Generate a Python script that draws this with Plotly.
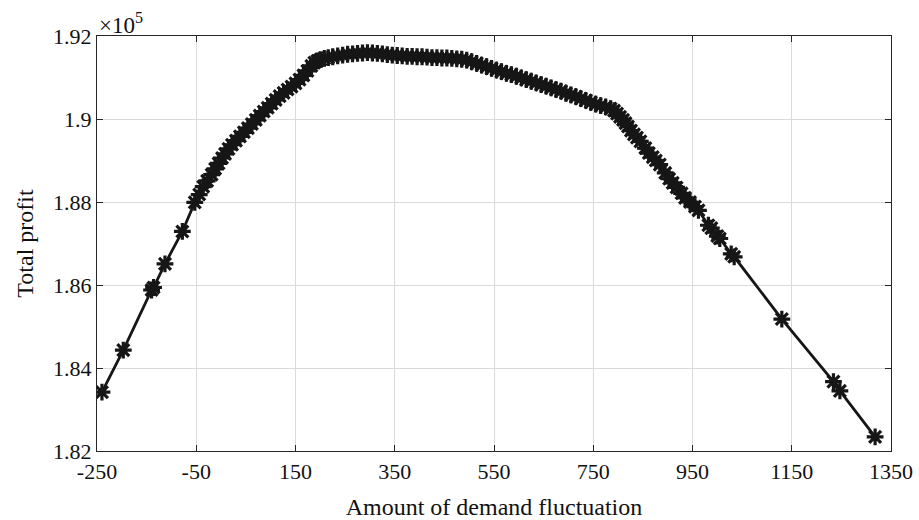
import plotly.graph_objects as go

# Amount of demand fluctuation
demand = [
    -240, -197, -140, -136, -113, -78, -53,
    -44, -36, -28, -19, -12, -5, 2, 8, 15, 22, 30, 38, 46, 54, 62, 70, 78, 86, 94,
    102, 110, 118, 126, 134, 142, 150, 158, 166, 174, 182, 188, 194, 200, 208, 216,
    225, 235, 245, 255, 265, 275, 285, 295, 305, 315, 325, 335, 345, 355, 365, 375,
    385, 395, 405, 415, 425, 435, 445, 455, 465, 475, 485, 495, 505, 515, 525, 535,
    545, 555, 565, 575, 585, 595, 605, 615, 625, 635, 645, 655, 665, 675, 685, 695,
    705, 715, 725, 735, 745, 755, 765, 775, 785, 792, 798, 804, 810, 815, 820, 826,
    832, 838, 845, 855, 862, 870, 876, 884, 895, 903, 910, 918, 928, 935, 945, 955,
    962, 982, 988, 1000, 1005, 1028, 1034, 1130, 1234, 1247, 1318,
]

# Total profit (in units of 1e5)
profit_e5 = [
    1.8342, 1.8443, 1.8588, 1.8594, 1.8651, 1.8729, 1.8799,
    1.8818, 1.8837, 1.8851, 1.8866, 1.8880, 1.8893, 1.8906, 1.8916, 1.8928, 1.8938,
    1.8948, 1.8958, 1.8968, 1.8978, 1.8988, 1.8998, 1.9008, 1.9018, 1.9027,
    1.9037, 1.9046, 1.9055, 1.9063, 1.9071, 1.9078, 1.9086, 1.9095, 1.9105, 1.9116,
    1.9128, 1.9136, 1.9140, 1.9143, 1.9146, 1.9148,
    1.9150, 1.9152, 1.9154, 1.9156, 1.9157, 1.9158, 1.9159, 1.9160, 1.9159, 1.9158,
    1.9157, 1.9155, 1.9154, 1.9153, 1.9152, 1.9151,
    1.9151, 1.9150, 1.9150, 1.9149, 1.9148, 1.9148, 1.9147, 1.9147, 1.9146, 1.9145,
    1.9144, 1.9142, 1.9138, 1.9134, 1.9130, 1.9126,
    1.9122, 1.9118, 1.9114, 1.9110, 1.9107, 1.9103, 1.9099, 1.9095, 1.9091, 1.9087,
    1.9083, 1.9079, 1.9075, 1.9071, 1.9067, 1.9062,
    1.9058, 1.9054, 1.9049, 1.9045, 1.9040, 1.9036, 1.9032, 1.9029, 1.9025, 1.9020,
    1.9013, 1.9005, 1.8998, 1.8990, 1.8982, 1.8972,
    1.8963, 1.8955, 1.8946, 1.8930, 1.8918, 1.8908, 1.8900, 1.8890, 1.8870, 1.8856,
    1.8846, 1.8835, 1.8821, 1.8810, 1.8800, 1.8789,
    1.8780, 1.8744, 1.8737, 1.8718, 1.8712, 1.8675, 1.8668, 1.8518, 1.8367, 1.8345, 1.8234,
]

x_ticks = [-250, -50, 150, 350, 550, 750, 950, 1150, 1350]
y_ticks = [1.82, 1.84, 1.86, 1.88, 1.90, 1.92]
y_tick_text = ["1.82", "1.84", "1.86", "1.88", "1.9", "1.92"]

profit = [v * 1e5 for v in profit_e5]
y_tick_vals = [v * 1e5 for v in y_ticks]

FONT = "Liberation Serif"
INK = "#161616"

fig = go.Figure()
fig.add_trace(go.Scatter(
    x=demand, y=profit, mode="lines+markers",
    line=dict(color=INK, width=2.8),
    marker=dict(symbol="asterisk-open", size=14, color=INK,
                line=dict(color=INK, width=3.2)),
    showlegend=False,
))

axis_common = dict(
    showline=True, linecolor="#262626", linewidth=1.2, mirror="allticks",
    ticks="inside", ticklen=6, tickcolor="#262626", tickwidth=1.2,
    showgrid=True, gridcolor="#dadada", gridwidth=1, zeroline=False,
    automargin=False,
    tickfont=dict(family=FONT, size=22, color="#111"),
)

fig.update_layout(
    width=919, height=520,
    margin=dict(l=97, r=28, t=36, b=69),
    paper_bgcolor="white", plot_bgcolor="white",
    font=dict(family=FONT, color="#111"),
    xaxis=dict(range=[-250, 1350], tickvals=x_ticks,
               ticktext=[str(v) for v in x_ticks],
               title=dict(text="Amount of demand fluctuation",
                          font=dict(family=FONT, size=24), standoff=15),
               **axis_common),
    yaxis=dict(range=[182000, 192000], tickvals=y_tick_vals, ticktext=y_tick_text,
               title=dict(text="Total profit", font=dict(family=FONT, size=24), standoff=12),
               **axis_common),
    annotations=[dict(
        text="×10<sup>5</sup>", xref="paper", yref="paper", x=0.0, y=1.0,
        xanchor="left", yanchor="bottom", showarrow=False, xshift=0, yshift=-4,
        font=dict(family=FONT, size=23, color="#111"),
    )],
)

fig.write_html("out.html")
